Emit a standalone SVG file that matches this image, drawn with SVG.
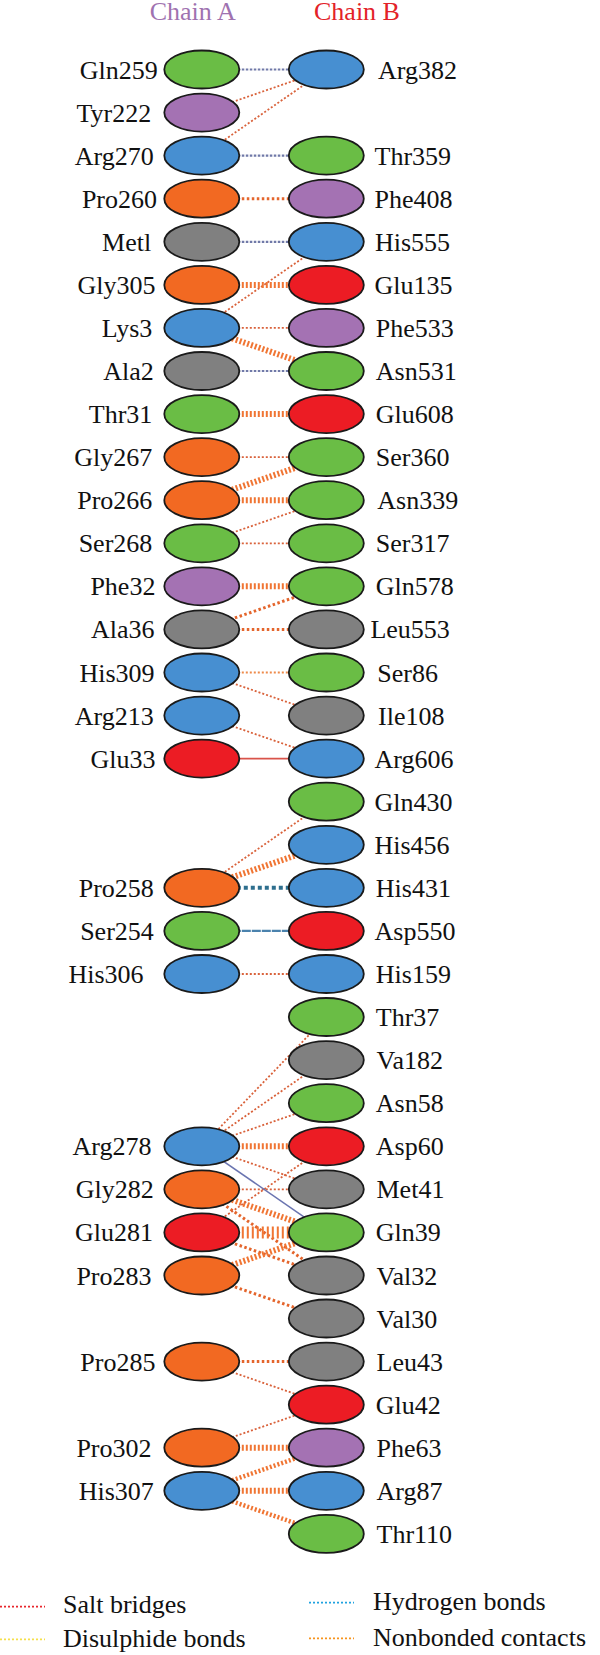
<svg xmlns="http://www.w3.org/2000/svg" width="600" height="1655" viewBox="0 0 600 1655">
<style>
.n{stroke:#1a1a1a;stroke-width:1.8}
.g{fill:#6abd45}.p{fill:#a472b3}.b{fill:#478fd1}.o{fill:#f26922}.k{fill:#808080}.r{fill:#ec1c24}
text{font-family:"Liberation Serif","Times New Roman",serif;font-size:26px;fill:#111}
.la{text-anchor:end}
line{fill:none}
.t{stroke:#d9623b;stroke-width:1.8;stroke-dasharray:2 2}
.m{stroke:#e4652c;stroke-width:3;stroke-dasharray:2.5 2.5}
.w{stroke:#f07533;stroke-width:6;stroke-dasharray:2 2}
.h{stroke:#7079a8;stroke-width:2.2;stroke-dasharray:2.5 1.5}
.s{stroke:#d9534a;stroke-width:1.6}
.hb{stroke:#2e6f8e;stroke-width:4;stroke-dasharray:4 3}
.sb{stroke:#4a82ad;stroke-width:2.2;stroke-dasharray:9 1}
.sl{stroke:#6a74b0;stroke-width:1.6}
</style>
<text x="192.7" y="20" text-anchor="middle" style="fill:#9f72b0">Chain A</text>
<text x="357" y="20" text-anchor="middle" style="fill:#e32228">Chain B</text>
<g id="connectors">
<line class="h" x1="201.8" y1="69.5" x2="326.3" y2="69.5"/>
<line class="t" x1="201.8" y1="112.6" x2="326.3" y2="69.5"/>
<line class="t" x1="201.8" y1="155.6" x2="326.3" y2="69.5"/>
<line class="h" x1="201.8" y1="155.6" x2="326.3" y2="155.6"/>
<line class="m" x1="201.8" y1="198.7" x2="326.3" y2="198.7"/>
<line class="h" x1="201.8" y1="241.8" x2="326.3" y2="241.8"/>
<line class="t" x1="201.8" y1="327.9" x2="326.3" y2="241.8"/>
<line class="w" x1="201.8" y1="284.9" x2="326.3" y2="284.9"/>
<line class="t" x1="201.8" y1="327.9" x2="326.3" y2="327.9"/>
<line class="w" x1="201.8" y1="327.9" x2="326.3" y2="371.0"/>
<line class="h" x1="201.8" y1="371.0" x2="326.3" y2="371.0"/>
<line class="w" x1="201.8" y1="414.1" x2="326.3" y2="414.1"/>
<line class="t" x1="201.8" y1="457.1" x2="326.3" y2="457.1"/>
<line class="w" x1="201.8" y1="500.2" x2="326.3" y2="457.1"/>
<line class="w" x1="201.8" y1="500.2" x2="326.3" y2="500.2"/>
<line class="t" x1="201.8" y1="543.3" x2="326.3" y2="500.2"/>
<line class="t" x1="201.8" y1="543.3" x2="326.3" y2="543.3"/>
<line class="w" x1="201.8" y1="586.3" x2="326.3" y2="586.3"/>
<line class="m" x1="201.8" y1="629.4" x2="326.3" y2="586.3"/>
<line class="m" x1="201.8" y1="629.4" x2="326.3" y2="629.4"/>
<line class="t" x1="201.8" y1="672.5" x2="326.3" y2="672.5" style="stroke:#ee8a4a"/>
<line class="t" x1="201.8" y1="672.5" x2="326.3" y2="715.6"/>
<line class="t" x1="201.8" y1="715.6" x2="326.3" y2="758.6"/>
<line class="s" x1="201.8" y1="758.6" x2="326.3" y2="758.6"/>
<line class="t" x1="201.8" y1="887.8" x2="326.3" y2="801.7"/>
<line class="w" x1="201.8" y1="887.8" x2="326.3" y2="844.8"/>
<line class="hb" x1="201.8" y1="887.8" x2="326.3" y2="887.8"/>
<line class="sb" x1="201.8" y1="930.9" x2="326.3" y2="930.9"/>
<line class="t" x1="201.8" y1="974.0" x2="326.3" y2="974.0"/>
<line class="t" x1="201.8" y1="1146.3" x2="326.3" y2="1017.0"/>
<line class="t" x1="201.8" y1="1146.3" x2="326.3" y2="1060.1"/>
<line class="t" x1="201.8" y1="1146.3" x2="326.3" y2="1103.2"/>
<line class="w" x1="201.8" y1="1146.3" x2="326.3" y2="1146.3"/>
<line class="t" x1="201.8" y1="1146.3" x2="326.3" y2="1189.3"/>
<line class="t" x1="201.8" y1="1189.3" x2="326.3" y2="1189.3"/>
<line class="w" x1="201.8" y1="1189.3" x2="326.3" y2="1232.4"/>
<line class="m" x1="201.8" y1="1189.3" x2="326.3" y2="1275.5"/>
<line class="t" x1="201.8" y1="1232.4" x2="326.3" y2="1146.3"/>
<line class="w" x1="201.8" y1="1232.4" x2="326.3" y2="1232.4" style="stroke-width:12;stroke-dasharray:2 3"/>
<line class="m" x1="201.8" y1="1232.4" x2="326.3" y2="1275.5"/>
<line class="w" x1="201.8" y1="1275.5" x2="326.3" y2="1232.4"/>
<line class="m" x1="201.8" y1="1275.5" x2="326.3" y2="1318.5"/>
<line class="sl" x1="201.8" y1="1146.3" x2="326.3" y2="1232.4"/>
<line class="m" x1="201.8" y1="1361.6" x2="326.3" y2="1361.6"/>
<line class="t" x1="201.8" y1="1361.6" x2="326.3" y2="1404.7"/>
<line class="t" x1="201.8" y1="1447.7" x2="326.3" y2="1404.7"/>
<line class="w" x1="201.8" y1="1447.7" x2="326.3" y2="1447.7"/>
<line class="w" x1="201.8" y1="1490.8" x2="326.3" y2="1447.7" style="stroke-width:4.5"/>
<line class="w" x1="201.8" y1="1490.8" x2="326.3" y2="1490.8"/>
<line class="w" x1="201.8" y1="1490.8" x2="326.3" y2="1533.9" style="stroke-width:4.5"/>
</g>
<g id="L_Gln259"><ellipse class="n g" cx="201.8" cy="69.5" rx="37.5" ry="19"/><text class="la" x="157.7" y="78.5">Gln259</text></g>
<g id="L_Tyr222"><ellipse class="n p" cx="201.8" cy="112.6" rx="37.5" ry="19"/><text class="la" x="151.2" y="121.6">Tyr222</text></g>
<g id="L_Arg270"><ellipse class="n b" cx="201.8" cy="155.6" rx="37.5" ry="19"/><text class="la" x="153.8" y="164.6">Arg270</text></g>
<g id="L_Pro260"><ellipse class="n o" cx="201.8" cy="198.7" rx="37.5" ry="19"/><text class="la" x="157" y="207.7">Pro260</text></g>
<g id="L_Metl"><ellipse class="n k" cx="201.8" cy="241.8" rx="37.5" ry="19"/><text class="la" x="151.2" y="250.8">Metl</text></g>
<g id="L_Gly305"><ellipse class="n o" cx="201.8" cy="284.9" rx="37.5" ry="19"/><text class="la" x="155.4" y="293.9">Gly305</text></g>
<g id="L_Lys3"><ellipse class="n b" cx="201.8" cy="327.9" rx="37.5" ry="19"/><text class="la" x="152.3" y="336.9">Lys3</text></g>
<g id="L_Ala2"><ellipse class="n k" cx="201.8" cy="371.0" rx="37.5" ry="19"/><text class="la" x="153.8" y="380">Ala2</text></g>
<g id="L_Thr31"><ellipse class="n g" cx="201.8" cy="414.1" rx="37.5" ry="19"/><text class="la" x="152.3" y="423.1">Thr31</text></g>
<g id="L_Gly267"><ellipse class="n o" cx="201.8" cy="457.1" rx="37.5" ry="19"/><text class="la" x="152.3" y="466.1">Gly267</text></g>
<g id="L_Pro266"><ellipse class="n o" cx="201.8" cy="500.2" rx="37.5" ry="19"/><text class="la" x="152.3" y="509.2">Pro266</text></g>
<g id="L_Ser268"><ellipse class="n g" cx="201.8" cy="543.3" rx="37.5" ry="19"/><text class="la" x="152.3" y="552.3">Ser268</text></g>
<g id="L_Phe32"><ellipse class="n p" cx="201.8" cy="586.3" rx="37.5" ry="19"/><text class="la" x="155.4" y="595.3">Phe32</text></g>
<g id="L_Ala36"><ellipse class="n k" cx="201.8" cy="629.4" rx="37.5" ry="19"/><text class="la" x="154.6" y="638.4">Ala36</text></g>
<g id="L_His309"><ellipse class="n b" cx="201.8" cy="672.5" rx="37.5" ry="19"/><text class="la" x="154.6" y="681.5">His309</text></g>
<g id="L_Arg213"><ellipse class="n b" cx="201.8" cy="715.6" rx="37.5" ry="19"/><text class="la" x="153.8" y="724.6">Arg213</text></g>
<g id="L_Glu33"><ellipse class="n r" cx="201.8" cy="758.6" rx="37.5" ry="19"/><text class="la" x="155.4" y="767.6">Glu33</text></g>
<g id="L_Pro258"><ellipse class="n o" cx="201.8" cy="887.8" rx="37.5" ry="19"/><text class="la" x="153.8" y="896.8">Pro258</text></g>
<g id="L_Ser254"><ellipse class="n g" cx="201.8" cy="930.9" rx="37.5" ry="19"/><text class="la" x="153.8" y="939.9">Ser254</text></g>
<g id="L_His306"><ellipse class="n b" cx="201.8" cy="974.0" rx="37.5" ry="19"/><text class="la" x="143.5" y="983">His306</text></g>
<g id="L_Arg278"><ellipse class="n b" cx="201.8" cy="1146.3" rx="37.5" ry="19"/><text class="la" x="151.5" y="1155.3">Arg278</text></g>
<g id="L_Gly282"><ellipse class="n o" cx="201.8" cy="1189.3" rx="37.5" ry="19"/><text class="la" x="153.8" y="1198.3">Gly282</text></g>
<g id="L_Glu281"><ellipse class="n r" cx="201.8" cy="1232.4" rx="37.5" ry="19"/><text class="la" x="153" y="1241.4">Glu281</text></g>
<g id="L_Pro283"><ellipse class="n o" cx="201.8" cy="1275.5" rx="37.5" ry="19"/><text class="la" x="151.5" y="1284.5">Pro283</text></g>
<g id="L_Pro285"><ellipse class="n o" cx="201.8" cy="1361.6" rx="37.5" ry="19"/><text class="la" x="155.4" y="1370.6">Pro285</text></g>
<g id="L_Pro302"><ellipse class="n o" cx="201.8" cy="1447.7" rx="37.5" ry="19"/><text class="la" x="151.5" y="1456.7">Pro302</text></g>
<g id="L_His307"><ellipse class="n b" cx="201.8" cy="1490.8" rx="37.5" ry="19"/><text class="la" x="153.8" y="1499.8">His307</text></g>
<g id="R_Arg382"><ellipse class="n b" cx="326.3" cy="69.5" rx="37.5" ry="19"/><text x="378" y="78.5">Arg382</text></g>
<g id="R_Thr359"><ellipse class="n g" cx="326.3" cy="155.6" rx="37.5" ry="19"/><text x="374.5" y="164.6">Thr359</text></g>
<g id="R_Phe408"><ellipse class="n p" cx="326.3" cy="198.7" rx="37.5" ry="19"/><text x="374.5" y="207.7">Phe408</text></g>
<g id="R_His555"><ellipse class="n b" cx="326.3" cy="241.8" rx="37.5" ry="19"/><text x="375" y="250.8">His555</text></g>
<g id="R_Glu135"><ellipse class="n r" cx="326.3" cy="284.9" rx="37.5" ry="19"/><text x="374.5" y="293.9">Glu135</text></g>
<g id="R_Phe533"><ellipse class="n p" cx="326.3" cy="327.9" rx="37.5" ry="19"/><text x="375.8" y="336.9">Phe533</text></g>
<g id="R_Asn531"><ellipse class="n g" cx="326.3" cy="371.0" rx="37.5" ry="19"/><text x="375.8" y="380">Asn531</text></g>
<g id="R_Glu608"><ellipse class="n r" cx="326.3" cy="414.1" rx="37.5" ry="19"/><text x="375.8" y="423.1">Glu608</text></g>
<g id="R_Ser360"><ellipse class="n g" cx="326.3" cy="457.1" rx="37.5" ry="19"/><text x="375.8" y="466.1">Ser360</text></g>
<g id="R_Asn339"><ellipse class="n g" cx="326.3" cy="500.2" rx="37.5" ry="19"/><text x="377.3" y="509.2">Asn339</text></g>
<g id="R_Ser317"><ellipse class="n g" cx="326.3" cy="543.3" rx="37.5" ry="19"/><text x="375.8" y="552.3">Ser317</text></g>
<g id="R_Gln578"><ellipse class="n g" cx="326.3" cy="586.3" rx="37.5" ry="19"/><text x="375.8" y="595.3">Gln578</text></g>
<g id="R_Leu553"><ellipse class="n k" cx="326.3" cy="629.4" rx="37.5" ry="19"/><text x="370.4" y="638.4">Leu553</text></g>
<g id="R_Ser86"><ellipse class="n g" cx="326.3" cy="672.5" rx="37.5" ry="19"/><text x="377.3" y="681.5">Ser86</text></g>
<g id="R_Ile108"><ellipse class="n k" cx="326.3" cy="715.6" rx="37.5" ry="19"/><text x="378" y="724.6">Ile108</text></g>
<g id="R_Arg606"><ellipse class="n b" cx="326.3" cy="758.6" rx="37.5" ry="19"/><text x="374.5" y="767.6">Arg606</text></g>
<g id="R_Gln430"><ellipse class="n g" cx="326.3" cy="801.7" rx="37.5" ry="19"/><text x="374.5" y="810.7">Gln430</text></g>
<g id="R_His456"><ellipse class="n b" cx="326.3" cy="844.8" rx="37.5" ry="19"/><text x="374.5" y="853.8">His456</text></g>
<g id="R_His431"><ellipse class="n b" cx="326.3" cy="887.8" rx="37.5" ry="19"/><text x="375.8" y="896.8">His431</text></g>
<g id="R_Asp550"><ellipse class="n r" cx="326.3" cy="930.9" rx="37.5" ry="19"/><text x="374.5" y="939.9">Asp550</text></g>
<g id="R_His159"><ellipse class="n b" cx="326.3" cy="974.0" rx="37.5" ry="19"/><text x="375.8" y="983">His159</text></g>
<g id="R_Thr37"><ellipse class="n g" cx="326.3" cy="1017.0" rx="37.5" ry="19"/><text x="375.8" y="1026">Thr37</text></g>
<g id="R_Va182"><ellipse class="n k" cx="326.3" cy="1060.1" rx="37.5" ry="19"/><text x="376.5" y="1069.1">Va182</text></g>
<g id="R_Asn58"><ellipse class="n g" cx="326.3" cy="1103.2" rx="37.5" ry="19"/><text x="375.8" y="1112.2">Asn58</text></g>
<g id="R_Asp60"><ellipse class="n r" cx="326.3" cy="1146.3" rx="37.5" ry="19"/><text x="375.8" y="1155.3">Asp60</text></g>
<g id="R_Met41"><ellipse class="n k" cx="326.3" cy="1189.3" rx="37.5" ry="19"/><text x="376.5" y="1198.3">Met41</text></g>
<g id="R_Gln39"><ellipse class="n g" cx="326.3" cy="1232.4" rx="37.5" ry="19"/><text x="375.8" y="1241.4">Gln39</text></g>
<g id="R_Val32"><ellipse class="n k" cx="326.3" cy="1275.5" rx="37.5" ry="19"/><text x="376.5" y="1284.5">Val32</text></g>
<g id="R_Val30"><ellipse class="n k" cx="326.3" cy="1318.5" rx="37.5" ry="19"/><text x="376.5" y="1327.5">Val30</text></g>
<g id="R_Leu43"><ellipse class="n k" cx="326.3" cy="1361.6" rx="37.5" ry="19"/><text x="376.5" y="1370.6">Leu43</text></g>
<g id="R_Glu42"><ellipse class="n r" cx="326.3" cy="1404.7" rx="37.5" ry="19"/><text x="375.8" y="1413.7">Glu42</text></g>
<g id="R_Phe63"><ellipse class="n p" cx="326.3" cy="1447.7" rx="37.5" ry="19"/><text x="376.5" y="1456.7">Phe63</text></g>
<g id="R_Arg87"><ellipse class="n b" cx="326.3" cy="1490.8" rx="37.5" ry="19"/><text x="376.5" y="1499.8">Arg87</text></g>
<g id="R_Thr110"><ellipse class="n g" cx="326.3" cy="1533.9" rx="37.5" ry="19"/><text x="376.5" y="1542.9">Thr110</text></g>
<g id="legend">
<line x1="0" y1="1606.7" x2="45" y2="1606.7" style="stroke:#e8262c;stroke-width:1.8;stroke-dasharray:2 2"/>
<text x="63" y="1613.3">Salt bridges</text>
<line x1="0" y1="1639.3" x2="45" y2="1639.3" style="stroke:#f5e04a;stroke-width:1.8;stroke-dasharray:2 2"/>
<text x="63" y="1646.7">Disulphide bonds</text>
<line x1="309" y1="1602.7" x2="354" y2="1602.7" style="stroke:#1fa2e0;stroke-width:1.8;stroke-dasharray:2 2"/>
<text x="373" y="1610">Hydrogen bonds</text>
<line x1="309" y1="1638.3" x2="354" y2="1638.3" style="stroke:#f7941d;stroke-width:1.8;stroke-dasharray:2 2"/>
<text x="373" y="1646">Nonbonded contacts</text>
</g>
</svg>
